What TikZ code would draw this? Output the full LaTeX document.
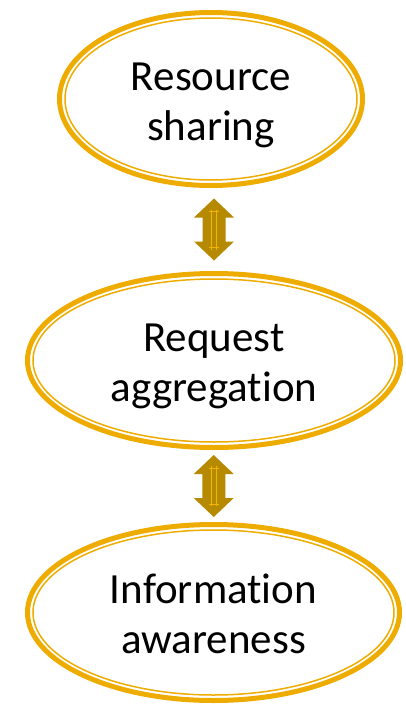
\documentclass[tikz,border=0pt]{standalone}
\usepackage{fontspec}
\setmainfont{Carlito}[Ligatures=NoCommon, RawFeature={-calt}]
\usetikzlibrary{calc, shapes.geometric, positioning}
\definecolor{ringgold}{HTML}{EFAC00}
\definecolor{arrowgold}{HTML}{B58900}
\definecolor{linegold}{HTML}{F2B400}

\tikzset{
  stage/.style={ellipse, draw=ringgold, line width=5pt, inner sep=0pt,
    align=center, font=\fontsize{43}{50}\selectfont},
  innerring/.style={draw=ringgold, line width=1.5pt},
  updown/.pic={
    \fill[arrowgold] (0,-31) -- (20,-12) -- (11.5,-12) -- (11.5,12) -- (20,12)
      -- (0,31) -- (-20,12) -- (-11.5,12) -- (-11.5,-12) -- (-20,-12) -- cycle;
    \draw[linegold, line width=0.9pt] (-2.7,-20) -- (-2.7,20) (2.7,-20) -- (2.7,20);
    \draw[linegold, line width=0.6pt] (-5,-18) -- (5,-18) (-5,18) -- (5,18);
  }
}
% two centred lines with fixed top and bottom struts
\newcommand{\stagetext}[2]{\rule{0pt}{42pt}#1\\#2\rule[-10pt]{0pt}{10pt}}

\begin{document}
\begin{tikzpicture}[x=1pt, y=-1pt]
    \useasboundingbox (0,0) rectangle (405,704);

    % Three stages
    \node[stage, minimum width=303pt, minimum height=173pt] (share) at (211,99) {\stagetext{Resource}{sharing}};
    \draw[innerring] (share.center) ellipse (146 and 81);

    \node[stage, minimum width=373pt, minimum height=174pt] (aggr) at (214,360.5) {\stagetext{Request}{aggregation}};
    \draw[innerring] (aggr.center) ellipse (181 and 81.5);

    \node[stage, minimum width=372pt, minimum height=176pt] (aware) at (213.5,612.5) {\stagetext{Information}{awareness}};
    \draw[innerring] (aware.center) ellipse (180.5 and 82.5);

    % Links between the stages
    \coordinate (link1) at ($(share.south)!0.5!(aggr.north)+(1.5,0)$);
    \coordinate (link2) at ($(aggr.south)!0.5!(aware.north)$);
    \pic at (link1) {updown};
    \pic at (link2) {updown};
\end{tikzpicture}
\end{document}
